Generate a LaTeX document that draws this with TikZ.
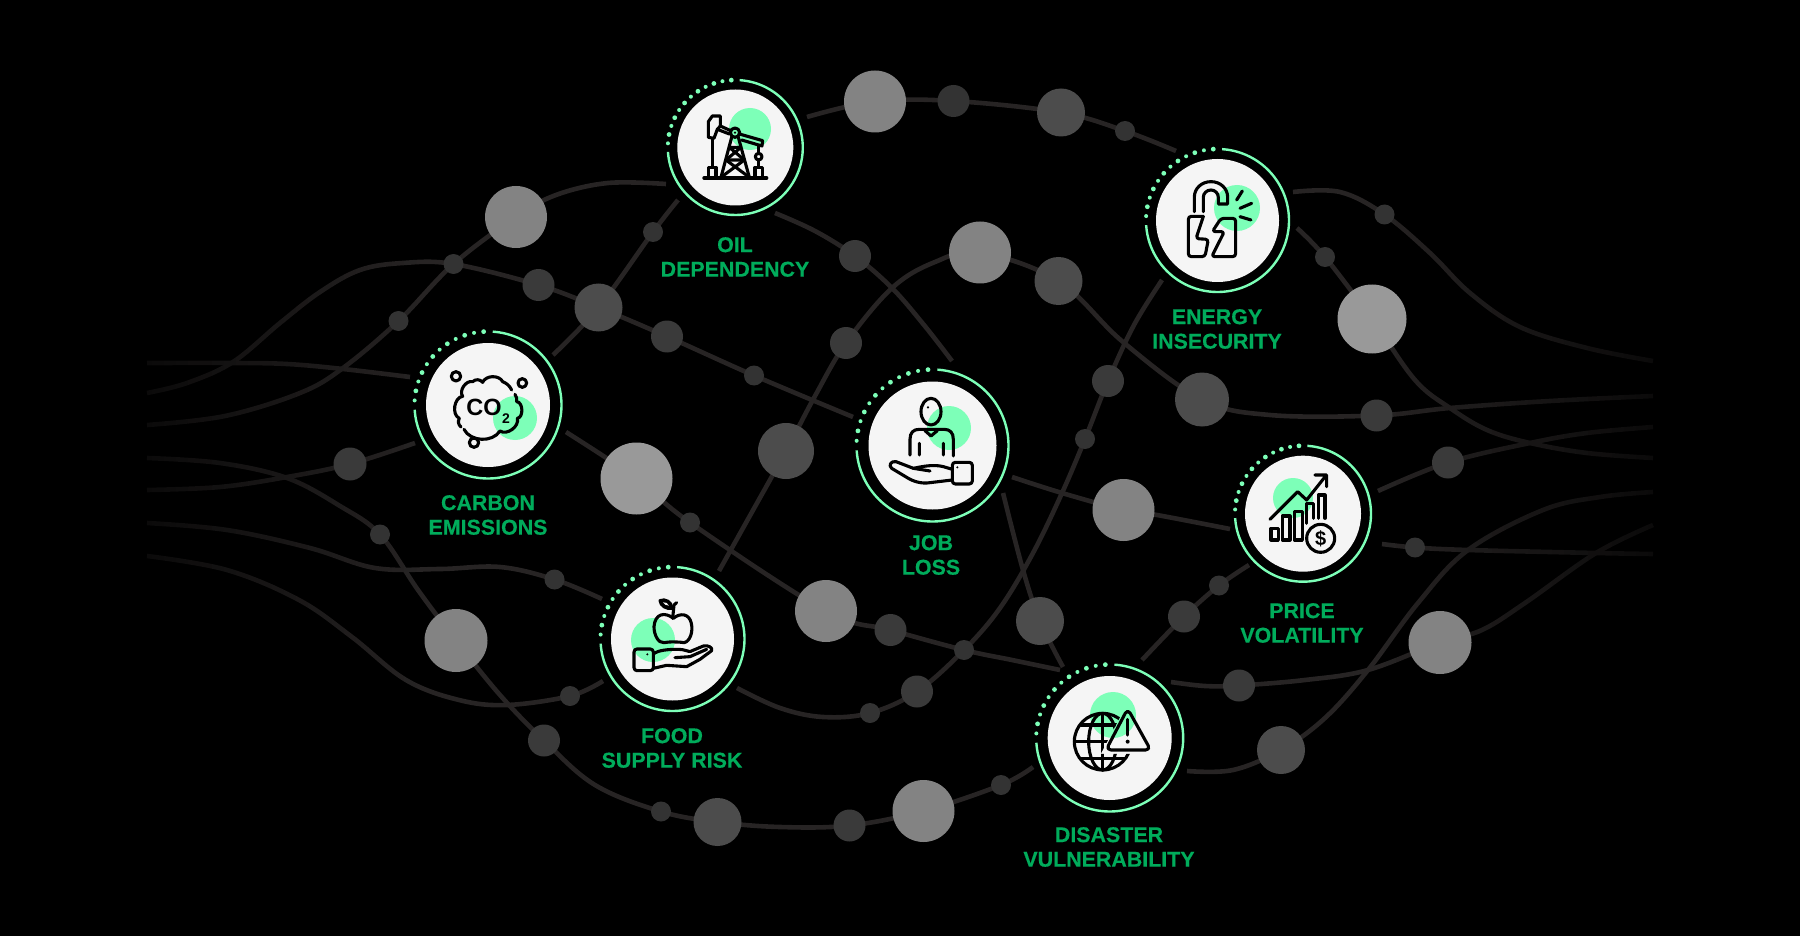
\documentclass[tikz,border=0pt]{standalone}
\usepackage{fontspec}
\setmainfont{Liberation Sans}
\newfontfamily\capfont[FakeBold=0.35]{Liberation Sans Bold}
\definecolor{netbase}{HTML}{272424}
\definecolor{ringc}{HTML}{7DFFB8}
\definecolor{discc}{HTML}{F5F5F5}
\definecolor{capc}{HTML}{00AC5B}
\definecolor{gS}{HTML}{333333}
\definecolor{gM}{HTML}{3A3A3A}
\definecolor{gL}{HTML}{4C4C4C}
\definecolor{gG}{HTML}{838383}
\definecolor{gH}{HTML}{999999}
\pgfdeclarelayer{bg}
\pgfsetlayers{bg,main}
\tikzset{
  bub/.style n args={2}{circle,inner sep=0pt,outer sep=0pt,minimum size=#1*2pt,fill=#2},
  net/.style={line width=4.6pt},
  ring/.style={line width=2.4pt,draw=ringc},
  capt/.style={align=center,text=capc,inner sep=0pt,font=\capfont\fontsize{21.4}{24.5}\selectfont},
  ico/.style={line width=3.1pt,line cap=round,line join=round,draw=black},
  hubdisc/.style={circle,inner sep=0pt,outer sep=0pt,fill=discc},
}
\newcommand{\hub}[8]{%
  \node[hubdisc,minimum size=#4*2pt] (#1) at (#2,#3) {};
  \fill[ringc] (#6,#7) circle (#8pt);
  \draw[ring] plot[smooth,domain=86.3:-176.3,samples=70,variable=\t] ({#2+#5*cos(\t)},{#3-#5*sin(\t)});
  \foreach \i [evaluate=\i as \a using 93.4+7.55*\i] in {0,2,...,10} {\fill[ringc] ({#2+#5*cos(\a)},{#3-#5*sin(\a)}) circle (2.4pt);}
  \foreach \i [evaluate=\i as \a using 93.4+7.55*\i] in {1,3,...,11} {\fill[ringc] ({#2+#5*cos(\a)},{#3-#5*sin(\a)}) circle (2pt);}
}
% #1 is the colour of this slice of the network
\newcommand{\netlines}[1]{%
\begin{scope}[net,draw=#1]
\draw plot[smooth,tension=.6] coordinates {(e1) (b1) (b2) (b3) (b4) (e2)};
\draw plot[smooth,tension=.6] coordinates {(e3) (608,183) (556,195) (b5) (b10) (b15) (343,368) (300,393) (225,416) (e4)};
\draw plot[smooth,tension=.6] coordinates {(e5) (187,383) (233,362) (280,323) (320,292) (360,270) (403,263) (b10) (b11) (b12) (b13) (b14) (e6)};
\draw plot[smooth,tension=.6] coordinates {(e7) (233,363) (287,364) (343,369) (e8)};
\draw plot[smooth,tension=.6] coordinates {(e9) (b30) (287,477) (220,487) (e10)};
\draw plot[smooth,tension=.6] coordinates {(e11) (220,463) (287,478) (340,506) (b31) (418,590) (b33) (500,695) (b46) (595,785) (b47) (b48) (780,827) (b49) (b50) (b51) (e12)};
\draw plot[smooth,tension=.6] coordinates {(e13) (227,530) (310,548) (375,568) (440,569) (500,567) (b32) (e14)};
\draw plot[smooth,tension=.6] coordinates {(e15) (227,570) (299,600) (352,637) (406,680) (459,700) (507,705) (b45) (e16)};
\draw plot[smooth,tension=.6] coordinates {(e17) (b28) (b29) (b34) (b35) (b36) (1012,660) (e18)};
\draw plot[smooth,tension=.6] coordinates {(e19) (1023,570) (b37) (e20)};
\draw plot[smooth,tension=.6] coordinates {(e21) (752,512) (b27) (815,396) (b16) (892,288) (935,262) (b8) (b9) (1123,342) (b19) (1270,415) (b20) (1450,408) (1550,401) (e22)};
\draw plot[smooth,tension=.6] coordinates {(e23) (815,231) (b7) (892,288) (924,325) (e24)};
\draw plot[smooth,tension=.6] coordinates {(e25) (1134,325) (b17) (b18) (1062,493) (1033,553) (1000,608) (b36) (b43) (b44) (823,717) (780,708) (e26)};
\draw plot[smooth,tension=.6] coordinates {(e27) (1062,493) (b26) (1157,515) (e28)};
\draw plot[smooth,tension=.6] coordinates {(e29) (b6) (b12) (e30)};
\draw plot[smooth,tension=.6] coordinates {(e31) (1340,192) (b21) (1430,253) (1470,293) (1520,327) (1587,348) (e32)};
\draw plot[smooth,tension=.6] coordinates {(e33) (b22) (b23) (1415,380) (1450,408) (1487,430) (1530,443) (1587,453) (e34)};
\draw plot[smooth,tension=.6] coordinates {(e35) (b24) (1530,443) (1587,433) (e36)};
\draw plot[smooth,tension=.6] coordinates {(e37) (b25) (1468,550) (1596,553) (e38)};
\draw plot[smooth,tension=.6] coordinates {(e39) (b39) (b38) (e40)};
\draw plot[smooth,tension=.6] coordinates {(e41) (1205,686) (b40) (1305,680) (1368,670) (b41) (1482,630) (1525,603) (1596,553) (e42)};
\draw plot[smooth,tension=.6] coordinates {(e43) (1233,770) (b42) (1325,718) (1368,670) (1418,603) (1468,550) (1543,510) (1600,497) (e44)};
\end{scope}
}
\begin{document}
\begin{tikzpicture}[x=1pt,y=-1pt]
\begin{pgfonlayer}{bg}
\fill[black] (0,0) rectangle (1800,936);
\end{pgfonlayer}
\useasboundingbox (0,0) rectangle (1800,936);
% bubbles
\foreach \n/\x/\y/\r/\c in {
 b1/875/101.5/31/gG, b2/953.5/101/16/gS, b3/1061/112.5/24/gL, b4/1125/131/10/gS,
 b5/516/217/31/gG, b6/653/232/10/gS, b7/855/256/16/gM, b8/980/252.5/31/gG,
 b9/1058.5/281/24/gL, b10/453.5/264/10/gS, b11/538.5/285/16/gM, b12/598.5/307.5/24/gL,
 b13/667/336.5/16/gM, b14/754/375.5/10/gS, b15/398.5/321/10/gS, b16/846/343/16/gM,
 b17/1108/381/16/gM, b18/1085/439/10/gS, b19/1202/399.5/27/gL, b20/1376.5/415.5/16/gM,
 b21/1384.5/214.5/10/gS, b22/1325/257/10/gS, b23/1372/319/34.5/gH, b24/1448/462.5/16/gM,
 b25/1415/547.5/10/gS, b26/1123.5/510/31/gG, b27/786/451/28/gL, b28/636.5/478.5/36/gH,
 b29/690/522.5/10/gS, b30/350/464/16.5/gM, b31/380/534.5/10/gS, b32/554.5/579.5/10/gS,
 b33/456/640.5/31.5/gG, b34/826/611/31/gG, b35/890.5/630/16/gM, b36/964/650/10/gS,
 b37/1040/621/24/gL, b38/1184/616.5/16/gM, b39/1219/585.5/10/gS, b40/1239/685.5/16/gM,
 b41/1440/642.5/31.5/gG, b42/1281/750/24/gL, b43/917/691.5/16/gM, b44/870/713/10/gS,
 b45/570/696/10/gS, b46/544/740.5/16/gM, b47/661/811.5/10/gS, b48/717.5/822/24/gL,
 b49/849.5/825.5/16/gM, b50/923.5/811/31/gG, b51/1001/785/10/gS}
 {\node[bub={\r}{\c}] (\n) at (\x,\y) {};}
% free ends of the lines
\foreach \n/\x/\y in {
 e1/807/117, e2/1176/151, e3/666/184, e4/147/425, e5/147/393, e6/853/417, e7/147/363, e8/410/377,
 e9/415/443, e10/147/490, e11/147/458, e12/1033/767, e13/147/523, e14/602/599, e15/147/556, e16/603/681,
 e17/566/432, e18/1060/670, e19/1003/493, e20/1063/667, e21/719/571, e22/1653/396, e23/775/213, e24/952/361,
 e25/1162/280, e26/737/688, e27/1012/477, e28/1230/529, e29/678/200, e30/553/355, e31/1293/192, e32/1653/361,
 e33/1297/228, e34/1653/458, e35/1378/491, e36/1653/427, e37/1382/544, e38/1653/554, e39/1249/565, e40/1142/660,
 e41/1171/682, e42/1653/525, e43/1187/771, e44/1653/492}
 {\coordinate (\n) at (\x,\y);}
\begin{pgfonlayer}{bg}
\begin{scope}
\clip (416,0) rectangle (1384,936);
\netlines{netbase}
\end{scope}
% lines dim toward the outer edges: slices drawn in darker tones
\foreach \k [evaluate=\k as \pct using {int(100*(1-0.72*(1-\k/23)))},
             evaluate=\k as \xa using {int(140+12*\k)},
             evaluate=\k as \xb using {int(152+12*\k)},
             evaluate=\k as \xc using {int(1660-12*\k)},
             evaluate=\k as \xd using {int(1648-12*\k)}] in {0,...,22}{
 \begin{scope}
 \clip (\xa,0) rectangle (\xb,936);
 \netlines{netbase!\pct!black}
 \end{scope}
 \begin{scope}
 \clip (\xd,0) rectangle (\xc,936);
 \netlines{netbase!\pct!black}
 \end{scope}
}
\end{pgfonlayer}
% hubs
\hub{oil}{735.3}{147.5}{58}{67.5}{750}{129}{21}
\hub{co}{488}{405}{62}{73.5}{515}{418}{22}
\hub{job}{932.5}{445.5}{64}{76}{949}{428}{22}
\hub{energy}{1217.5}{220.5}{61.5}{71.5}{1237}{208}{23}
\hub{price}{1303}{513.7}{58}{68}{1293}{498}{20}
\hub{food}{672.5}{639}{61.5}{72}{653}{640}{22}
\hub{disaster}{1109.7}{738}{62}{73.5}{1113}{715}{23}
% captions
\node[capt] (oilcap) at (735,257) {OIL\\DEPENDENCY};
\node[capt] (energycap) at (1217,329) {ENERGY\\INSECURITY};
\node[capt] (cocap) at (488,515) {CARBON\\EMISSIONS};
\node[capt] (jobcap) at (931,555) {JOB\\LOSS};
\node[capt] (pricecap) at (1302,623) {PRICE\\VOLATILITY};
\node[capt] (foodcap) at (672,748) {FOOD\\SUPPLY RISK};
\node[capt] (disastercap) at (1109,847) {DISASTER\\VULNERABILITY};
% oil icon
\begin{scope}[shift={(640,60)},x=.3333pt,y=-.3333pt,ico]
\draw (205,232) -- (205,185) -- (217,168) -- (241,168) -- (241,198) -- (232,208) -- (222,235) -- cycle;
\draw (241,198) -- (272,212) (298,222) -- (368,242) -- (366,258) -- (305,240) (232,208) -- (268,222);
\draw (285,218) circle (14);
\fill (285,218) circle (1.3pt);
\draw (275,232) -- (243,352) (295,232) -- (328,352) (268,262) -- (303,262) (258,300) -- (313,300);
\draw (258,300) -- (328,352) (313,300) -- (243,352) (268,262) -- (313,300) (303,262) -- (258,300);
\draw (217,235) -- (217,322) (205,352) -- (205,322) -- (228,322) -- (228,352);
\draw (356,258) -- (356,280) (356,300) -- (356,322) (345,352) -- (345,322) -- (367,322) -- (367,352);
\draw (356,290) circle (10);
\draw[line width=3.4pt] (192,354) -- (380,354);
\end{scope}
% CO2 icon
\begin{scope}[shift={(400,321)},x=.3333pt,y=-.3333pt,ico]
\draw (168,166) circle (14) (367,186) circle (13) (222,365) circle (14);
\draw (183,318) to[bend left=40] (178,292) to[bend left=75] (188,226) to[bend left=70] (218,182) to[bend left=50] (248,184) to[bend left=65] (308,182) to[bend left=20] (335,207);
\draw (345,220) to[bend left=20] (350,242) to[bend left=85] (352,292) to[bend left=70] (300,330) to[bend left=60] (192,325);
\node[inner sep=0pt,font=\fontsize{23.5}{24}\selectfont\bfseries] (cotext) at (252,260) {CO};
\node[inner sep=0pt,font=\fontsize{14}{14}\selectfont\bfseries] (twotext) at (318,292) {2};
\end{scope}
% job icon
\begin{scope}[shift={(850,360)},x=.3333pt,y=-.3333pt,ico]
\draw (243,155) ellipse [x radius=30,y radius=40];
\fill (234,142) circle (1.2pt);
\draw (180,285) -- (180,238) .. controls (180,218) and (190,208) .. (208,208) -- (282,208) .. controls (300,208) and (310,218) .. (310,238) -- (310,288);
\draw (208,250) -- (208,285) (280,250) -- (280,285) (225,212) -- (243,228) -- (262,212);
\draw (307,360) -- (240,368) .. controls (215,372) and (190,365) .. (170,352) -- (125,325) .. controls (115,317) and (122,302) .. (138,305) -- (190,325) .. controls (215,320) and (250,312) .. (280,320) -- (307,328);
\draw (190,325) -- (240,333);
\draw[rounded corners=3pt] (307,307) rectangle (367,372);
\fill (322,322) circle (1.1pt);
\end{scope}
% energy icon
\begin{scope}[shift={(1135,140)},x=.3333pt,y=-.3333pt,ico]
\draw (178,215) -- (178,172) .. controls (178,145) and (200,125) .. (228,125) .. controls (256,125) and (278,145) .. (278,172) -- (278,192) -- (250,192) -- (250,172) .. controls (250,160) and (240,150) .. (228,150) .. controls (215,150) and (205,160) .. (205,172) -- (205,215);
\draw[rounded corners=3pt] (205,229) -- (160,229) -- (160,350) -- (210,350) -- (220,298) -- (183,296) -- (205,229);
\draw[rounded corners=3pt] (258,235) -- (302,235) -- (302,350) -- (230,350) -- (268,275) -- (232,275) -- cycle;
\draw (305,180) -- (322,153) (315,205) -- (350,190) (315,230) -- (348,240);
\end{scope}
% price icon
\begin{scope}[shift={(1225,440)},x=.3333pt,y=-.3333pt,ico]
\draw (135,238) -- (218,155) -- (245,180) -- (302,108) (270,105) -- (305,105) -- (305,140);
\draw (138,265) rectangle (160,300) (172,228) rectangle (195,300) (208,215) rectangle (232,300);
\draw (245,250) -- (245,190) -- (265,190) -- (265,235) (280,235) -- (280,165) -- (300,165) -- (300,235);
\draw (287,295) circle (42);
\node[inner sep=0pt,font=\fontsize{20}{20}\selectfont\bfseries] (dollar) at (287,295) {\$};
\end{scope}
% food icon
\begin{scope}[shift={(590,560)},x=.3333pt,y=-.3333pt,ico]
\draw (250,175) .. controls (225,155) and (195,160) .. (192,200) .. controls (192,225) and (205,250) .. (222,248) .. controls (235,245) and (265,245) .. (282,248) .. controls (300,245) and (310,215) .. (304,190) .. controls (298,160) and (270,158) .. (250,175);
\draw (248,175) -- (252,135) (252,135) -- (260,128);
\draw[fill=black] (210,122) .. controls (225,115) and (245,125) .. (246,145) .. controls (230,148) and (212,138) .. (210,122) -- cycle;
\draw[fill=discc,draw=none] (219,127) .. controls (225,125) and (235,130) .. (237,137) .. controls (229,137) and (222,133) .. (219,127) -- cycle;
\draw[rounded corners=3pt] (132,267) rectangle (190,332);
\fill (172,283) circle (1.1pt);
\draw (190,282) .. controls (205,270) and (235,268) .. (265,268) .. controls (285,268) and (295,276) .. (302,274) -- (340,258) .. controls (355,255) and (368,262) .. (365,272) -- (330,298) -- (290,320) -- (230,316) -- (190,325);
\draw (255,293) -- (300,290) -- (350,268);
\end{scope}
% disaster icon
\begin{scope}[shift={(1030,660)},x=.3333pt,y=-.3333pt,ico]
\begin{scope}[even odd rule]
\clip (100,130) rectangle (380,350) (293,128) -- (212,282) -- (378,282) -- cycle;
\draw (218,245) circle (85);
\draw (218,245) ellipse [x radius=42,y radius=85];
\draw (218,160) -- (218,330) (133,245) -- (303,245);
\draw (152,195) -- (284,195) (152,295) -- (284,295);
\end{scope}
\draw[rounded corners=5pt] (293,146) -- (228,270) -- (362,270) -- cycle;
\draw (293,178) -- (293,225);
\fill (293,245) circle (2pt);
\end{scope}
\end{tikzpicture}
\end{document}
